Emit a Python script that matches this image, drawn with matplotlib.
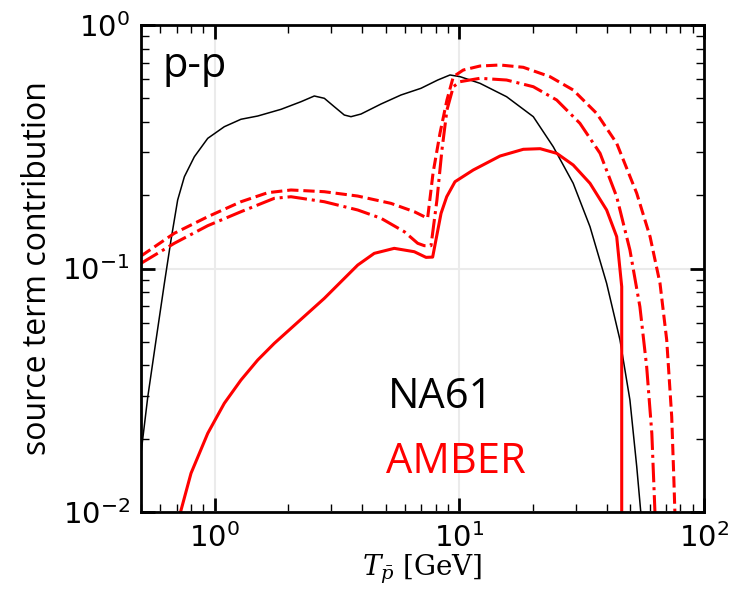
import numpy as np
import matplotlib
matplotlib.use("Agg")
import matplotlib.pyplot as plt

# NA61 (black, thin)
na61_T = [0.5, 0.533, 0.576, 0.623, 0.663, 0.706, 0.752, 0.826, 0.937, 1.095, 1.281, 1.50, 1.867,
          2.254, 2.554, 2.807, 3.083, 3.387, 3.607, 3.964, 4.785, 5.775, 6.97, 8.16, 9.16, 10.07,
          12.15, 15.6, 20.06, 24.2, 29.2, 34.2, 40.0, 45.35, 49.8, 53.1, 55.3, 56.0]
na61_v = [0.01742, 0.02973, 0.05085, 0.0869, 0.1309, 0.1911, 0.2382, 0.2877, 0.3424, 0.3822, 0.4101, 0.4229, 0.4505,
          0.4842, 0.5110, 0.5000, 0.4618, 0.4269, 0.4202, 0.4309, 0.4737, 0.5159, 0.5496, 0.5943, 0.6234, 0.6135,
          0.5760, 0.5076, 0.4202, 0.3163, 0.2238, 0.1485, 0.0869, 0.0509, 0.02884, 0.01535, 0.0097, 0.008]

# AMBER solid
amb_T = [0.715, 0.729, 0.8005, 0.937, 1.095, 1.281, 1.50, 1.753, 2.051, 2.40, 2.807, 3.284, 3.843, 4.49,
         5.42, 6.545, 7.31, 7.78, 8.42, 8.88, 9.60, 11.4, 14.67, 18.26, 21.4, 25.0, 29.2, 34.2, 40.0,
         43.97, 46.1, 46.1]
amb_v = [0.0093, 0.01019, 0.01442, 0.02104, 0.02795, 0.03483, 0.0421, 0.04928, 0.05679, 0.06546, 0.07541, 0.08826, 0.1033, 0.1154,
         0.121, 0.1172, 0.1111, 0.1114, 0.1685, 0.1971, 0.2272, 0.2538, 0.2897, 0.3087, 0.3105, 0.2972, 0.2661, 0.2238, 0.1739,
         0.1351, 0.0842, 0.005]

# AMBER dashed
dash_T = [0.5, 0.684, 0.937, 1.281, 1.648, 2.051, 2.807, 3.843, 5.25, 6.545, 7.42, 7.81, 8.34, 8.90, 9.45,
          10.38, 12.15, 14.67, 18.26, 23.47, 29.2, 36.4, 43.97, 53.1, 60.2, 66.1, 70.4, 73.8, 75.4, 76.1, 76.5]
dash_v = [0.1125, 0.1395, 0.1632, 0.188, 0.2048, 0.2101, 0.2067, 0.1984, 0.1852, 0.1711, 0.1608, 0.247, 0.360, 0.492, 0.6135,
          0.6533, 0.6785, 0.6851, 0.6703, 0.6135, 0.5408, 0.4337, 0.3267, 0.2036, 0.1351, 0.0869, 0.0509, 0.0246, 0.01311, 0.0097, 0.008]

# AMBER dash-dot
dd_T = [0.5, 0.684, 0.937, 1.281, 1.753, 2.051, 2.807, 3.843, 4.785, 5.96, 6.76, 7.19, 7.66, 8.10, 8.49, 8.90,
        9.45, 10.07, 12.15, 15.6, 20.06, 25.0, 31.1, 37.6, 43.97, 49.8, 54.7, 58.3, 61.2, 63.1, 63.5]
dd_v = [0.105, 0.1269, 0.1499, 0.1711, 0.1942, 0.1971, 0.188, 0.1739, 0.1608, 0.1416, 0.1269, 0.1241, 0.1241, 0.191, 0.3066, 0.4477,
        0.5579, 0.5851, 0.6042, 0.5943, 0.5579, 0.492, 0.3948, 0.2972, 0.1971, 0.1191, 0.0697, 0.0395, 0.02104, 0.0097, 0.008]

fig = plt.figure(figsize=(7.40, 5.89), dpi=100)
ax = fig.add_axes([141/740, 1 - 512/589, (704 - 141)/740, (512 - 25)/589])

ax.plot(na61_T, na61_v, color='black', lw=1.1)
ax.plot(amb_T, amb_v, color='red', lw=2.2, ls='-')
ax.plot(dash_T, dash_v, color='red', lw=2.2, ls='--')
ax.plot(dd_T, dd_v, color='red', lw=2.2, ls='-.')

ax.set_xscale('log')
ax.set_yscale('log')
ax.set_xlim(0.5, 100)
ax.set_ylim(0.01, 1)

ax.grid(True, which='major', color='#ebebeb', lw=1.5)
ax.set_axisbelow(True)
for s in ax.spines.values():
    s.set_linewidth(2.0)
ax.tick_params(which='both', direction='in', top=True, right=True)
ax.tick_params(which='major', length=10, width=2, labelsize=21, pad=8)
ax.tick_params(which='minor', length=6, width=1)

ax.set_xlabel(r'$T_{\bar{p}}$ [GeV]', fontsize=20, math_fontfamily='dejavuserif',
              family='DejaVu Serif', labelpad=0)
ax.set_ylabel('source term contribution', fontsize=23, family='Open Sans')
ax.yaxis.set_label_coords(-0.1545, 0.5)

ax.text(0.039, 0.893, 'p-p', transform=ax.transAxes, fontsize=30, family='Open Sans',
        ha='left', va='baseline', color='black')
ax.text(0.438, 0.2136, 'NA61', transform=ax.transAxes, fontsize=30, family='Open Sans',
        ha='left', va='baseline', color='black')
ax.text(0.435, 0.080, 'AMBER', transform=ax.transAxes, fontsize=30, family='Open Sans',
        ha='left', va='baseline', color='red')

fig.savefig('out.png', dpi=100)
